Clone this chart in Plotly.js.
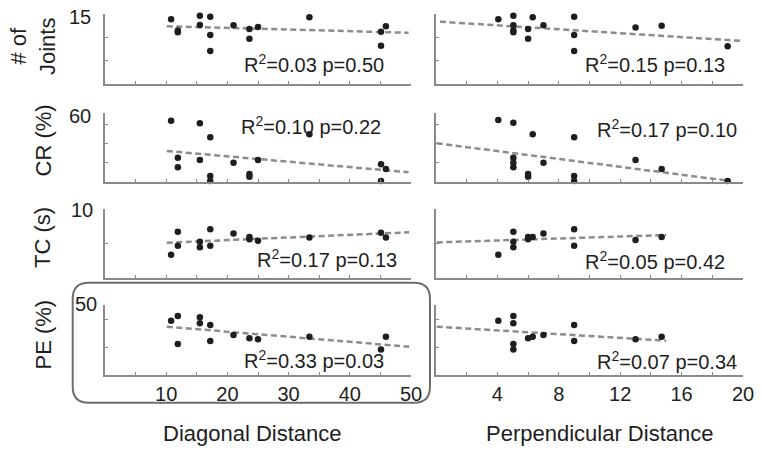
<!DOCTYPE html>
<html>
<head>
<meta charset="utf-8">
<script src="https://cdn.plot.ly/plotly-3.0.1.min.js"></script>
<style>html,body{margin:0;padding:0;background:#fff;}#chart{width:762px;height:453px;}</style>
</head>
<body>
<div id="chart"></div>
<script>
// ---------- data ----------
const rowLabels = ['# of<br>Joints', 'CR (%)', 'TC (s)', 'PE (%)'];
const yMaxLabels = ['15', '60', '10', '50'];
const yMax = [15, 60, 10, 50];
const yTickVals = [[5, 10, 15], [16.5, 33, 49.5], [5, 10], [20, 40]];
const diagTickVals = [10, 20, 30, 40, 50];
const diagTickText = ['10', '20', '30', '40', '50'];
const diagMinorStep = 5;
const perpTickVals = [4, 8, 12, 16, 20];
const perpTickText = ['4', '8', '12', '16', '20'];
const perpMinorStep = 2;
const xTitles = ['Diagonal Distance', 'Perpendicular Distance'];
const statsDiag = ['R<sup>2</sup>=0.03 p=0.50', 'R<sup>2</sup>=0.10 p=0.22', 'R<sup>2</sup>=0.17 p=0.13', 'R<sup>2</sup>=0.33 p=0.03'];
const statsPerp = ['R<sup>2</sup>=0.15 p=0.13', 'R<sup>2</sup>=0.17 p=0.10', 'R<sup>2</sup>=0.05 p=0.42', 'R<sup>2</sup>=0.07 p=0.34'];

// # of Joints
const jointsDiagX = [10.8, 11.9, 11.9, 15.5, 15.5, 17.2, 17.2, 17.2, 21.0, 23.6, 23.6, 25.0, 33.4, 45.1, 45.1, 45.9];
const jointsDiagY = [13.9, 11.1, 11.5, 14.6, 12.65, 14.4, 10.5, 7.1, 12.6, 11.8, 9.7, 12.2, 14.3, 11.2, 8.2, 12.4];
const jointsDiagFitX = [10.1, 49.6];
const jointsDiagFitY = [12.37, 11.0];
const jointsPerpX = [4.06, 5.04, 5.04, 5.04, 5.04, 6.0, 6.0, 6.3, 7.0, 9.0, 9.0, 9.0, 13.0, 14.7, 19.0];
const jointsPerpY = [13.9, 14.6, 12.6, 11.1, 11.5, 11.8, 9.7, 14.3, 12.6, 14.4, 10.5, 7.1, 12.1, 12.5, 8.1];
const jointsPerpFitX = [0.26, 20.0];
const jointsPerpFitY = [13.36, 9.24];

// CR (%)
const crDiagX = [10.8, 11.9, 11.9, 15.5, 15.5, 17.2, 17.2, 17.2, 21.0, 23.6, 23.6, 25.0, 33.4, 45.1, 45.1, 45.9];
const crDiagY = [53.0, 20.9, 12.5, 50.8, 18.9, 38.6, 5.0, 0.6, 16.5, 6.7, 4.3, 18.9, 41.2, 15.1, 0.6, 11.0];
const crDiagFitX = [10.1, 49.6];
const crDiagFitY = [26.7, 8.2];
const crPerpX = [4.06, 5.04, 5.04, 5.04, 5.04, 6.0, 6.0, 6.3, 7.0, 9.0, 9.0, 9.0, 13.0, 14.7, 19.0];
const crPerpY = [53.7, 51.3, 20.9, 16.5, 12.5, 6.7, 4.3, 41.2, 16.5, 38.6, 5.0, 0.6, 18.9, 11.0, 0.6];
const crPerpFitX = [0.05, 19.2];
const crPerpFitY = [33.4, 0.6];

// TC (s)
const tcDiagX = [10.8, 11.9, 11.9, 15.5, 15.5, 17.2, 17.2, 21.0, 23.6, 23.6, 25.0, 33.4, 45.1, 45.9];
const tcDiagY = [3.4, 6.75, 4.7, 5.3, 4.5, 7.1, 4.7, 6.5, 6.0, 5.65, 5.45, 5.9, 6.6, 5.9];
const tcDiagFitX = [10.1, 49.7];
const tcDiagFitY = [5.16, 6.67];
const tcPerpX = [4.06, 5.04, 5.04, 5.04, 6.0, 6.0, 6.3, 7.0, 9.0, 9.0, 13.0, 14.7];
const tcPerpY = [3.4, 6.75, 5.3, 4.5, 6.0, 5.65, 6.0, 6.5, 7.1, 4.7, 5.55, 6.0];
const tcPerpFitX = [0.05, 15.0];
const tcPerpFitY = [5.2, 6.27];

// PE (%)
const peDiagX = [10.8, 11.9, 11.9, 15.5, 15.5, 17.2, 17.2, 21.0, 23.6, 25.0, 33.4, 45.1, 45.9];
const peDiagY = [38.8, 42.1, 22.1, 41.2, 36.9, 35.7, 24.3, 28.6, 26.2, 25.5, 27.4, 18.3, 27.4];
const peDiagFitX = [10.1, 49.7];
const peDiagFitY = [34.5, 20.2];
const pePerpX = [4.06, 5.04, 5.04, 5.04, 5.04, 6.0, 6.3, 7.0, 9.0, 9.0, 13.0, 14.7];
const pePerpY = [38.8, 42.1, 36.9, 22.1, 18.3, 26.2, 27.4, 28.6, 35.7, 24.3, 25.5, 27.4];
const pePerpFitX = [0.05, 15.0];
const pePerpFitY = [34.5, 24.5];

// ---------- build ----------
const W = 762, H = 453;
const px = x => x / W;
const py = y => 1 - y / H;
const FONT = '"Liberation Sans", Arial, Helvetica, sans-serif';
const INK = '#1e1e1e';
const AXC = '#8a8a8a';

const panels = [
  [[jointsDiagX, jointsDiagY, jointsDiagFitX, jointsDiagFitY], [jointsPerpX, jointsPerpY, jointsPerpFitX, jointsPerpFitY]],
  [[crDiagX, crDiagY, crDiagFitX, crDiagFitY], [crPerpX, crPerpY, crPerpFitX, crPerpFitY]],
  [[tcDiagX, tcDiagY, tcDiagFitX, tcDiagFitY], [tcPerpX, tcPerpY, tcPerpFitX, tcPerpFitY]],
  [[peDiagX, peDiagY, peDiagFitX, peDiagFitY], [pePerpX, pePerpY, pePerpFitX, pePerpFitY]]
];

const colDom = [[px(105), px(411)], [px(436), px(743)]];
const rowPix = [[14, 84.3], [112.7, 181.7], [209.3, 278.3], [305, 375]];
const statPos = [
  [[241.7, 63], [583.3, 63.3]],
  [[239.3, 125.7], [595, 128.3]],
  [[255, 258], [583.3, 260]],
  [[241.7, 359], [595, 360.7]]
];
const titlePos = [[33, 47], [43, 140.5], [42.5, 237.5], [42.5, 335]];
const maxLabelPos = [[93, 17.5], [93, 115.7], [95, 210], [99, 303.7]];

const traces = [];
const layout = {
  width: W, height: H,
  margin: {l: 0, r: 0, t: 0, b: 0},
  paper_bgcolor: '#fff', plot_bgcolor: '#fff',
  showlegend: false,
  font: {family: FONT, color: INK, size: 20},
  annotations: [], shapes: []
};

for (let r = 0; r < 4; r++) {
  for (let c = 0; c < 2; c++) {
    const i = r * 2 + c + 1;
    const xa = 'x' + (i === 1 ? '' : i), ya = 'y' + (i === 1 ? '' : i);
    const [X, Y, FX, FY] = panels[r][c];
    traces.push({x: FX, y: FY, xaxis: xa, yaxis: ya, type: 'scatter', mode: 'lines',
      line: {color: '#8c8c8c', width: 2.5, dash: '6px,3.5px'}, hoverinfo: 'skip'});
    traces.push({x: X, y: Y, xaxis: xa, yaxis: ya, type: 'scatter', mode: 'markers',
      marker: {color: INK, size: 6.5}, cliponaxis: false});
    const bottom = r === 3;
    layout['xaxis' + (i === 1 ? '' : i)] = {
      domain: colDom[c], anchor: ya, range: c === 0 ? [0, 50] : [0, 20],
      tickmode: 'array', tickvals: c === 0 ? diagTickVals : perpTickVals,
      ticktext: c === 0 ? diagTickText : perpTickText,
      showticklabels: bottom,
      ticks: 'inside', ticklen: 3, tickwidth: 1, tickcolor: AXC,
      minor: {tickmode: 'linear', tick0: 0, dtick: c === 0 ? diagMinorStep : perpMinorStep,
        ticks: 'inside', ticklen: 3, tickwidth: 1, tickcolor: AXC, showgrid: false},
      showline: true, linecolor: AXC, linewidth: 2, mirror: false,
      showgrid: false, zeroline: false, fixedrange: true,
      tickfont: {family: FONT, size: 20, color: INK}
    };
    layout['yaxis' + (i === 1 ? '' : i)] = {
      domain: [py(rowPix[r][1]), py(rowPix[r][0])], anchor: xa, range: [0, yMax[r]],
      tickmode: 'array', tickvals: yTickVals[r], showticklabels: false,
      ticks: 'inside', ticklen: 3, tickwidth: 1, tickcolor: AXC,
      showline: true, linecolor: AXC, linewidth: 2, mirror: false,
      showgrid: false, zeroline: false, fixedrange: true
    };
    layout.annotations.push({
      xref: 'paper', yref: 'paper', x: px(statPos[r][c][0]), y: py(statPos[r][c][1]),
      xanchor: 'left', yanchor: 'middle', showarrow: false,
      text: c === 0 ? statsDiag[r] : statsPerp[r], font: {family: FONT, size: 20, color: INK}
    });
  }
  layout.annotations.push({
    xref: 'paper', yref: 'paper', x: px(titlePos[r][0]), y: py(titlePos[r][1]),
    xanchor: 'center', yanchor: 'middle', showarrow: false, textangle: -90,
    text: rowLabels[r], font: {family: FONT, size: 22, color: INK}
  });
  layout.annotations.push({
    xref: 'paper', yref: 'paper', x: px(maxLabelPos[r][0]), y: py(maxLabelPos[r][1]),
    xanchor: 'right', yanchor: 'middle', showarrow: false,
    text: yMaxLabels[r], font: {family: FONT, size: 20, color: INK}
  });
}
layout.annotations.push({xref: 'paper', yref: 'paper', x: px(252), y: py(433), xanchor: 'center', yanchor: 'middle',
  showarrow: false, text: xTitles[0], font: {family: FONT, size: 22, color: INK}});
layout.annotations.push({xref: 'paper', yref: 'paper', x: px(599), y: py(433), xanchor: 'center', yanchor: 'middle',
  showarrow: false, text: xTitles[1], font: {family: FONT, size: 22, color: INK}});

// rounded highlight box around the bottom-left panel
(function () {
  const x0 = 72.7, x1 = 430, y0 = 282.7, y1 = 402.7, rr = 16;
  const P = (x, y) => px(x).toFixed(5) + ',' + py(y).toFixed(5);
  const path = 'M' + P(x0 + rr, y0) + ' L' + P(x1 - rr, y0) + ' Q' + P(x1, y0) + ' ' + P(x1, y0 + rr) +
    ' L' + P(x1, y1 - rr) + ' Q' + P(x1, y1) + ' ' + P(x1 - rr, y1) +
    ' L' + P(x0 + rr, y1) + ' Q' + P(x0, y1) + ' ' + P(x0, y1 - rr) +
    ' L' + P(x0, y0 + rr) + ' Q' + P(x0, y0) + ' ' + P(x0 + rr, y0) + ' Z';
  layout.shapes.push({type: 'path', xref: 'paper', yref: 'paper', path: path,
    line: {color: '#6e6e6e', width: 2}, fillcolor: 'rgba(0,0,0,0)'});
})();

Plotly.newPlot('chart', traces, layout, {staticPlot: true, displayModeBar: false});
</script>
</body>
</html>
